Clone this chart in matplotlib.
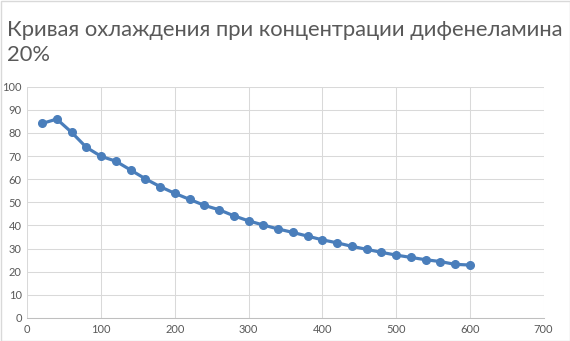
import matplotlib
matplotlib.use("Agg")
import matplotlib.pyplot as plt
from matplotlib.patches import Rectangle

title = "Кривая охлаждения при концентрации дифенеламина\n20%"
time_s = [20, 40, 60, 80, 100, 120, 140, 160, 180, 200, 220, 240, 260, 280, 300,
          320, 340, 360, 380, 400, 420, 440, 460, 480, 500, 520, 540, 560, 580, 600]
temp_c = [84.1, 86.0, 80.3, 73.8, 69.9, 67.8, 64.0, 60.2, 56.8, 53.9, 51.3, 48.7, 46.8, 44.2, 42.0,
          40.2, 38.5, 37.0, 35.4, 33.8, 32.5, 31.0, 29.7, 28.4, 27.2, 26.2, 25.2, 24.4, 23.2, 22.9]
xticks = [0, 100, 200, 300, 400, 500, 600, 700]
yticks = [0, 10, 20, 30, 40, 50, 60, 70, 80, 90, 100]

plt.rcParams['font.family'] = ['Lato', 'DejaVu Sans']
W, H = 570, 341
fig = plt.figure(figsize=(W / 100, H / 100), dpi=100)
fig.patch.set_facecolor('white')
fig.add_artist(Rectangle((0.5 / W, 0.5 / H), 1 - 1 / W, 1 - 1 / H, transform=fig.transFigure,
                         fill=False, edgecolor='#d9d9d9', linewidth=1))

left, right, top, bottom = 27.3, 543.5, 86.7, 318
ax = fig.add_axes([left / W, 1 - bottom / H, (right - left) / W, (bottom - top) / H])
ax.plot(time_s, temp_c, color='#4a7ebb', linewidth=2.3, marker='o', markersize=5.5,
        markerfacecolor='#4a7ebb', markeredgecolor='#4a7ebb', zorder=3, clip_on=False)
ax.set_xlim(0, 700)
ax.set_ylim(0, 100)
ax.set_xticks(xticks)
ax.set_yticks(yticks)
ax.grid(True, color='#d9d9d9', linewidth=0.75)
ax.set_axisbelow(True)
for s in ['top', 'right', 'left']:
    ax.spines[s].set_visible(False)
ax.spines['bottom'].set_color('#bfbfbf')
ax.spines['bottom'].set_linewidth(0.75)
ax.tick_params(length=0, labelsize=8, colors='#595959', pad=4)

fig.text(7 / W, 1 - 19.5 / H, title, fontsize=15.8, color='#595959', ha='left', va='top',
         linespacing=1.35)

fig.savefig('out.png', dpi=100)
